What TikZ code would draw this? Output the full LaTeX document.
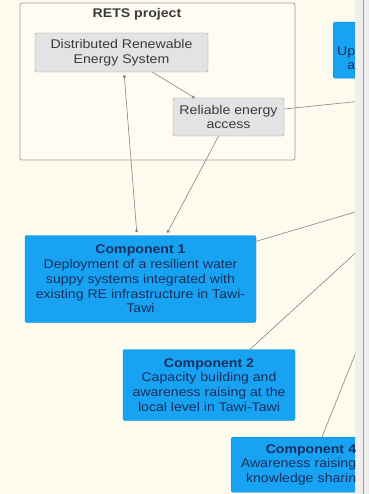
\documentclass[tikz,border=0pt]{standalone}
\usepackage{fontspec}
\setmainfont{Liberation Sans}[FakeStretch=1.12]
\usetikzlibrary{arrows.meta}
\definecolor{cream}{HTML}{FDFAEE}
\definecolor{framefill}{HTML}{FEFCF3}
\definecolor{framegrey}{HTML}{9A9A9A}
\definecolor{boxgrey}{HTML}{E3E3E3}
\definecolor{boxline}{HTML}{9E9E9E}
\definecolor{greytext}{HTML}{3A3A3A}
\definecolor{compblue}{HTML}{17A2F2}
\definecolor{compline}{HTML}{0E86CF}
\definecolor{comptext}{HTML}{1C2F5E}
\definecolor{linkgrey}{HTML}{858585}
\definecolor{stripgrey}{HTML}{EFEFEF}
\definecolor{stripline}{HTML}{6BB3B8}

\begin{document}
\begin{tikzpicture}[x=1pt,y=-1pt,
  every node/.style={font=\fontsize{12.6}{14.7}\selectfont,inner sep=0pt},
  grey box/.style={draw=boxline,fill=boxgrey,rounded corners=1.5pt,text=greytext,align=center},
  comp/.style={draw=compline,fill=compblue,rounded corners=2pt,text=comptext,align=center},
  link/.style={draw=linkgrey,line width=0.6pt},
  tipdot/.style={-{Circle[length=3pt]}}]
\useasboundingbox (0,0) rectangle (369,494);
\fill[cream] (0,0) rectangle (355,494);
\fill[stripgrey] (355,0) rectangle (369,494);
\draw[stripline,line width=1.5pt] (363.5,0) -- (363.5,494);
% RETS project frame
\node[draw=framegrey,line width=0.7pt,fill=framefill,rounded corners=2pt,minimum width=275,minimum height=157] (rets) at (157.5,81.5) {};
\node[font=\fontsize{12.6}{14.7}\selectfont\bfseries,text=greytext] (retstitle) at (137,14) {RETS project};
\node[grey box,minimum width=173,minimum height=39] (dres) at (121.5,52.5) {Distributed Renewable\\Energy System};
\node[grey box,minimum width=111,minimum height=38] (access) at (228.5,117) {Reliable energy\\access};
% components
\node[comp,minimum width=231,minimum height=87] (comp1) at (140.5,279) {\textbf{Component 1}\\Deployment of a resilient water\\suppy systems integrated with\\existing RE infrastructure in Tawi-\\Tawi};
\node[comp,minimum width=172,minimum height=71] (comp2) at (209,385) {\textbf{Component 2}\\Capacity building and\\awareness raising at the\\local level in Tawi-Tawi};
\begin{scope}
\clip (0,0) rectangle (355,494);
\node[comp,anchor=north west,align=right,text width=122,inner xsep=3,minimum height=55] (comp4) at (231,437) {\textbf{Component 4}\\Awareness raising\\knowledge sharin};
\node[comp,anchor=north west,align=right,text width=19,inner xsep=3,minimum height=56] (comp3) at (333,22) {\strut\\Up\\a};
\coordinate (out1) at (362,101);
\coordinate (out2) at (362,210);
\coordinate (out3) at (362,247);
\coordinate (out4) at (362,337);
\draw[link] ([yshift=8pt]access.east) -- (out1);
\draw[link] ([yshift=-6pt]comp1.north east) -- (out2);
\draw[link] ([xshift=41pt]comp2.north) -- (out3);
\draw[link] ([xshift=91pt]comp4.north west) -- (out4);
\end{scope}
% links inside
\draw[link,{Circle[length=3pt]}-{Circle[length=3pt]},shorten <=3pt,shorten >=3pt] ([xshift=2.5pt]dres.south) -- ([xshift=-3.5pt]comp1.north);
\draw[link,tipdot] ([xshift=31pt]dres.south) -- ([xshift=-34pt]access.north);
\draw[link,tipdot,shorten >=3pt] ([xshift=-10pt]access.south) -- ([xshift=25.5pt]comp1.north);
\end{tikzpicture}
\end{document}
